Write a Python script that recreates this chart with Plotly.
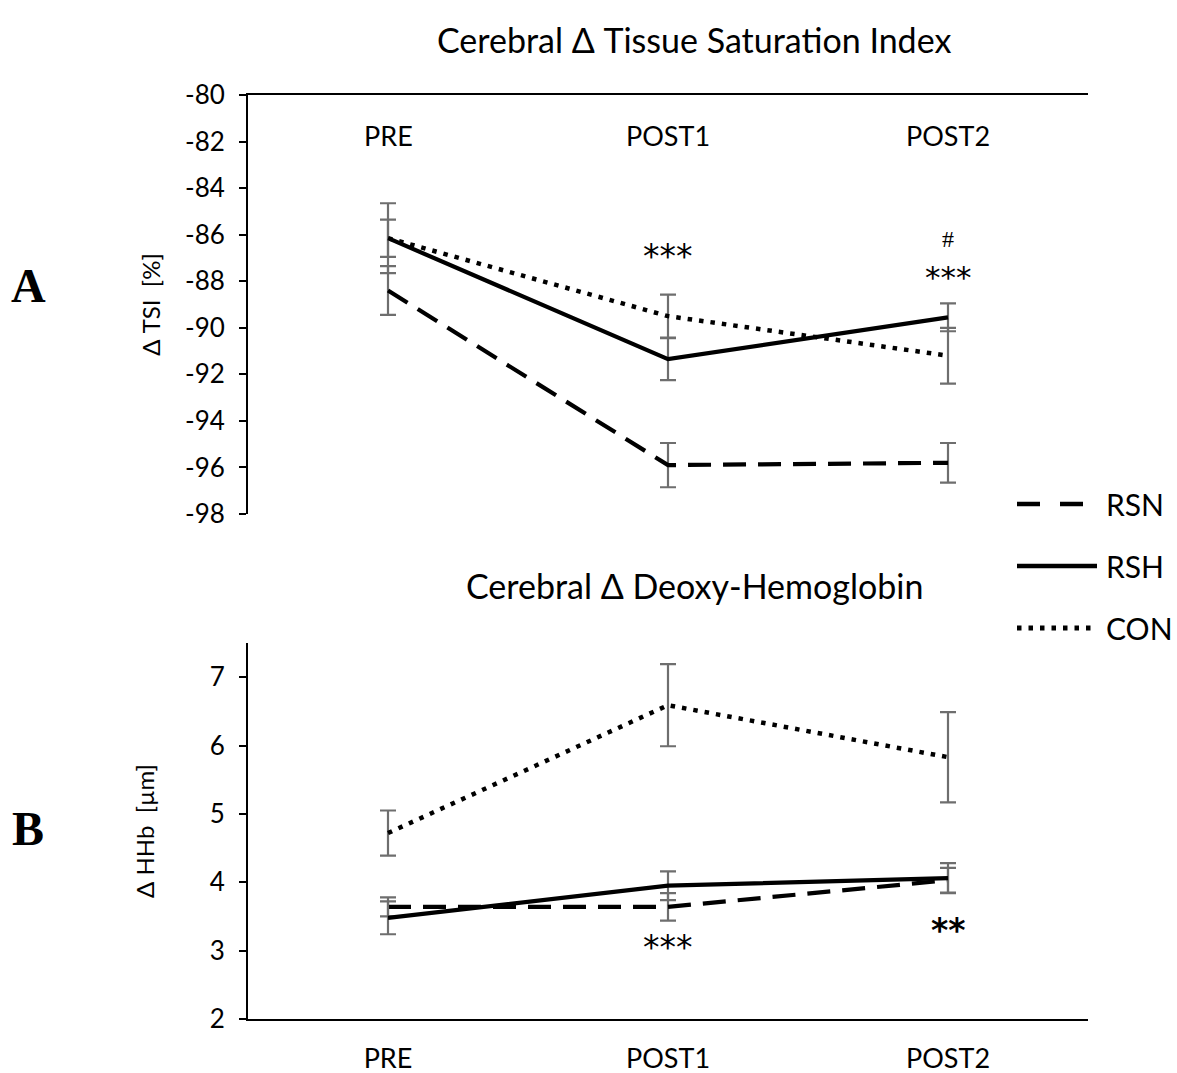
import plotly.graph_objects as go

categories = ["PRE", "POST1", "POST2"]

# Panel A: Delta TSI [%]
tsi_rsn = [-88.4, -95.9, -95.8]
tsi_rsn_err = [1.05, 0.95, 0.85]
tsi_rsh = [-86.15, -91.35, -89.55]
tsi_rsh_err = [1.5, 0.9, 0.6]
tsi_con = [-86.15, -89.5, -91.2]
tsi_con_err = [0.8, 0.92, 1.2]
tsi_ticks = [-98, -96, -94, -92, -90, -88, -86, -84, -82, -80]
tsi_ticktext = ["-98", "-96", "-94", "-92", "-90", "-88", "-86", "-84", "-82", "-80"]

# Panel B: Delta HHb [um]
hhb_rsn = [3.64, 3.64, 4.03]
hhb_rsn_err = [0.14, 0.2, 0.18]
hhb_rsh = [3.48, 3.95, 4.06]
hhb_rsh_err = [0.24, 0.21, 0.22]
hhb_con = [4.72, 6.59, 5.83]
hhb_con_err = [0.33, 0.6, 0.66]
hhb_ticks = [2, 3, 4, 5, 6, 7]

series_names = ["RSN", "RSH", "CON"]
dash_styles = ["23px,12px", "solid", "4.5px,7px"]
line_widths = [4.2, 4.2, 4.5]

FONT = "Lato, Open Sans, sans-serif"
W, H = 1177, 1073
ERR_COLOR = "#6e6e6e"

fig = go.Figure()

def add_series(y, err, name, dash, lw, xa, ya):
    fig.add_trace(go.Scatter(
        x=categories, y=y, mode="lines", name=name,
        line=dict(color="black", width=lw, dash=dash),
        error_y=dict(type="data", array=err, visible=True, color=ERR_COLOR,
                     thickness=2.2, width=8),
        xaxis=xa, yaxis=ya, showlegend=False,
    ))

for y, e, n, d, lw in zip([tsi_rsn, tsi_rsh, tsi_con], [tsi_rsn_err, tsi_rsh_err, tsi_con_err],
                          series_names, dash_styles, line_widths):
    add_series(y, e, n, d, lw, "x", "y")
for y, e, n, d, lw in zip([hhb_rsn, hhb_rsh, hhb_con], [hhb_rsn_err, hhb_rsh_err, hhb_con_err],
                          series_names, dash_styles, line_widths):
    add_series(y, e, n, d, lw, "x2", "y2")

xdom = [248 / W, 1088 / W]
top_dom = [1 - 514 / H, 1 - 95 / H]
bot_dom = [1 - 1019 / H, 1 - 643 / H]

tick_font = dict(family=FONT, size=26, color="black")
cat_font = dict(family=FONT, size=27, color="black")

fig.update_layout(
    width=W, height=H,
    margin=dict(l=0, r=0, t=0, b=0, autoexpand=False),
    paper_bgcolor="white", plot_bgcolor="white",
    font=dict(family=FONT, color="black"),
    xaxis=dict(domain=xdom, anchor="y", side="top", type="category",
               categoryorder="array", categoryarray=categories, automargin=False,
               range=[-0.5, 2.5], showline=True, linecolor="black", linewidth=2,
               ticks="", showgrid=False, zeroline=False, showticklabels=False),
    yaxis=dict(domain=top_dom, anchor="x", range=[-98, -80], automargin=False,
               tickvals=tsi_ticks, ticktext=tsi_ticktext,
               showline=True, linecolor="black", linewidth=2,
               ticks="outside", ticklen=7, tickwidth=2, tickcolor="black",
               showgrid=False, zeroline=False, tickfont=tick_font, ticklabelstandoff=9,
               title=dict(text="Δ TSI  [%]", font=dict(family=FONT, size=24), standoff=18)),
    xaxis2=dict(domain=xdom, anchor="y2", type="category", automargin=False,
                categoryorder="array", categoryarray=categories,
                range=[-0.5, 2.5], showline=True, linecolor="black", linewidth=2,
                ticks="", showgrid=False, zeroline=False,
                ticklabelstandoff=15, tickfont=cat_font),
    yaxis2=dict(domain=bot_dom, anchor="x2", range=[2, 7.5], tickvals=hhb_ticks,
                automargin=False,
                showline=True, linecolor="black", linewidth=2,
                ticks="outside", ticklen=7, tickwidth=2, tickcolor="black",
                showgrid=False, zeroline=False, tickfont=tick_font, ticklabelstandoff=9,
                title=dict(text="Δ HHb  [µm]", font=dict(family=FONT, size=24), standoff=48)),
)

ann = []
# top panel category labels (placed inside, under the top axis line)
for c in categories:
    ann.append(dict(text=c, x=c, y=1 - 135 / H, xref="x", yref="paper", showarrow=False,
                    font=cat_font, xanchor="center", yanchor="middle"))

ann.append(dict(text="Cerebral Δ Tissue Saturation Index", x=694 / W, y=1 - 40 / H,
                xref="paper", yref="paper", showarrow=False,
                font=dict(family=FONT, size=34), xanchor="center", yanchor="middle"))
ann.append(dict(text="Cerebral Δ Deoxy-Hemoglobin", x=694 / W, y=1 - 585 / H,
                xref="paper", yref="paper", showarrow=False,
                font=dict(family=FONT, size=34), xanchor="center", yanchor="middle"))
for letter, ypx in [("A", 285), ("B", 828)]:
    ann.append(dict(text="<b>%s</b>" % letter, x=28 / W, y=1 - ypx / H,
                    xref="paper", yref="paper", showarrow=False,
                    font=dict(family="Liberation Serif", size=48),
                    xanchor="center", yanchor="middle"))

# significance markers
STAR = "DejaVu Sans, sans-serif"
ann.append(dict(text="***", x="POST1", y=-86.95, xref="x", yref="y", showarrow=False,
                font=dict(family=STAR, size=33)))
ann.append(dict(text="#", x="POST2", y=-86.2, xref="x", yref="y", showarrow=False,
                font=dict(family="Liberation Serif", size=24)))
ann.append(dict(text="***", x="POST2", y=-87.8, xref="x", yref="y", showarrow=False,
                font=dict(family=STAR, size=31)))
ann.append(dict(text="***", x="POST1", y=3.05, xref="x2", yref="y2", showarrow=False,
                font=dict(family=STAR, size=33)))
ann.append(dict(text="<b>**</b>", x="POST2", y=3.3, xref="x2", yref="y2", showarrow=False,
                font=dict(family=STAR, size=33)))

# manual legend
legend_x1 = [1083, 1097, 1093]
for i, (n, d, lw) in enumerate(zip(series_names, dash_styles, line_widths)):
    ypx = 504 + i * 62
    fig.add_shape(type="line", xref="paper", yref="paper",
                  x0=1017 / W, x1=legend_x1[i] / W, y0=1 - ypx / H, y1=1 - ypx / H,
                  line=dict(color="black", width=lw + 0.5,
                            dash=("23px,20px" if i == 0 else d)))
    ann.append(dict(text=n, x=1104 / W, y=1 - ypx / H, xref="paper", yref="paper",
                    showarrow=False, xanchor="left", yanchor="middle",
                    font=dict(family=FONT, size=30)))

fig.update_layout(annotations=ann)
fig.write_html("out.html")
